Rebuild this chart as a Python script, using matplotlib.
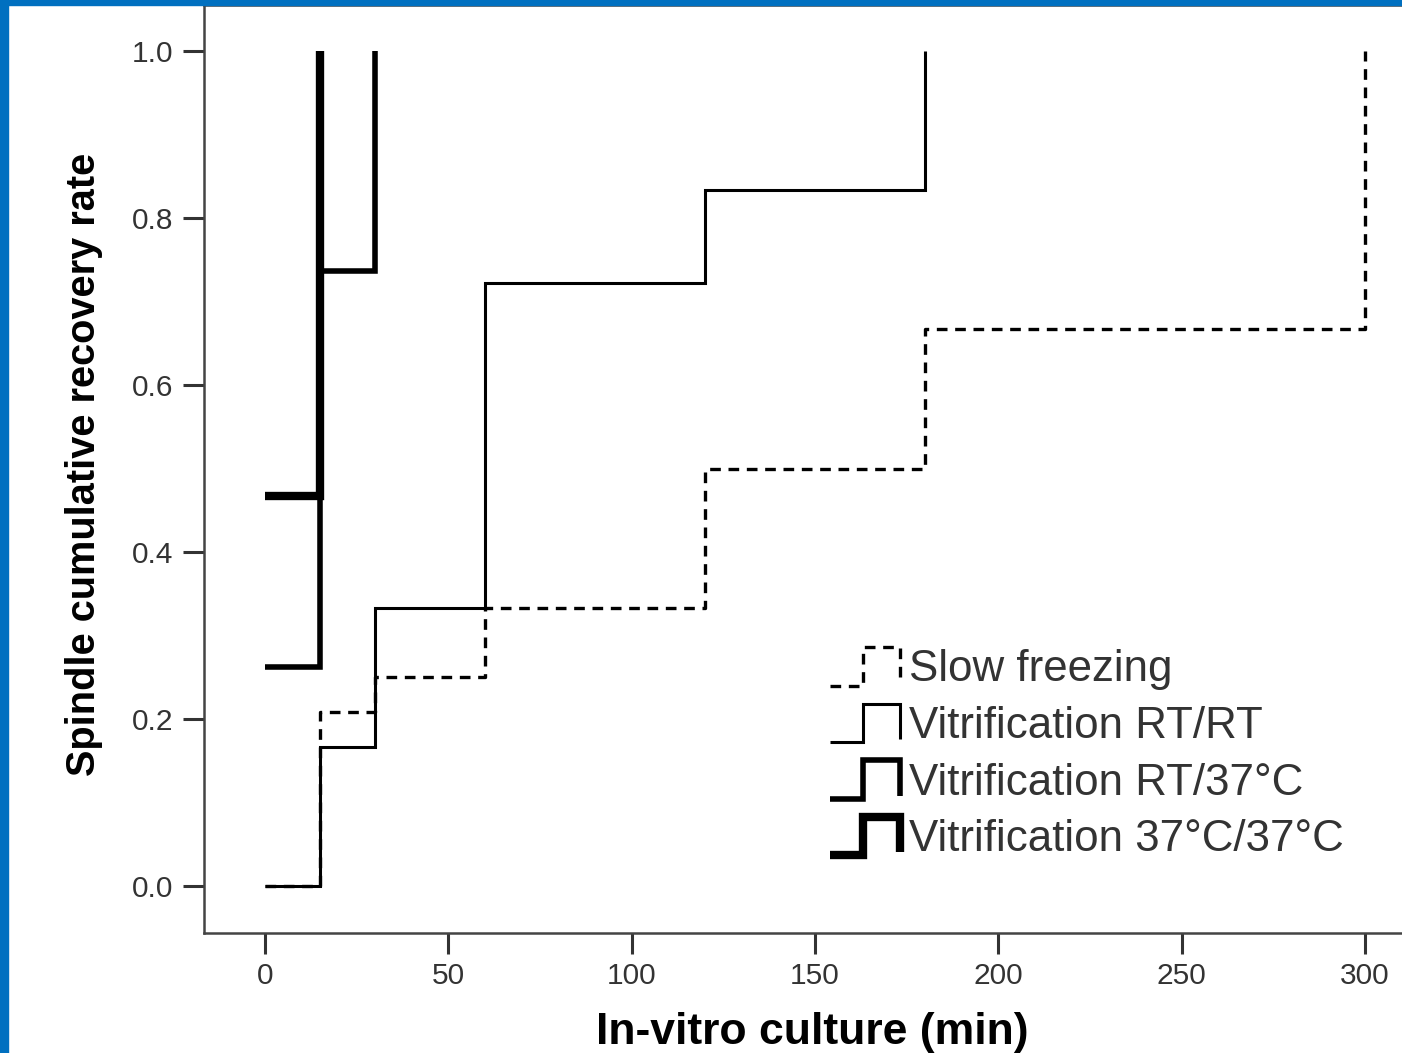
import matplotlib
matplotlib.use('Agg')
import matplotlib.pyplot as plt
from matplotlib.legend_handler import HandlerBase
from matplotlib.lines import Line2D
from matplotlib.patches import Rectangle

# culture time (min) at which each group steps, and cumulative recovery rate
slow_t = [0, 15, 30, 60, 120, 180, 300]
slow_v = [0.0, 0.208, 0.25, 0.333, 0.5, 0.667, 1.0]
rtrt_t = [0, 15, 30, 60, 120, 180]
rtrt_v = [0.0, 0.167, 0.333, 0.722, 0.833, 1.0]
rt37_t = [0, 15, 30]
rt37_v = [0.263, 0.737, 1.0]
t3737_t = [0, 15]
t3737_v = [0.467, 1.0]

labels = ['Slow freezing', 'Vitrification RT/RT',
          'Vitrification RT/37°C', 'Vitrification 37°C/37°C']
xticks = [0, 50, 100, 150, 200, 250, 300]
yticks = [0.0, 0.2, 0.4, 0.6, 0.8, 1.0]

plt.rcParams['font.family'] = ['Liberation Sans', 'DejaVu Sans']


class StepHandler(HandlerBase):
    # legend key drawn as a little step: low, up, across, down
    def create_artists(self, legend, orig_handle, xdescent, ydescent,
                       width, height, fontsize, trans):
        x0 = -xdescent
        y0 = -ydescent
        xm = x0 + 0.47 * width
        xs = [x0, xm, xm, x0 + width, x0 + width]
        ys = [y0, y0, y0 + height, y0 + height, y0 + 0.08 * height]
        line = Line2D(xs, ys)
        line.update_from(orig_handle)
        line.set_transform(trans)
        return [line]


fig = plt.figure(figsize=(14.02, 10.53), dpi=100)
ax = fig.add_axes([204 / 1402, 120 / 1053, 1216 / 1402, 928 / 1053])

common = dict(color='black', where='post', solid_capstyle='butt',
              solid_joinstyle='miter', dash_capstyle='butt')
h1, = ax.step(slow_t, slow_v, lw=2.4, linestyle=(0, (3.2, 2.3)), **common)
h2, = ax.step(rtrt_t, rtrt_v, lw=2.2, **common)
h3, = ax.step(rt37_t, rt37_v, lw=4.0, **common)
h4, = ax.step(t3737_t, t3737_v, lw=6.0, **common)

ax.set_xlim(-16.6, 315)
ax.set_ylim(-0.056, 1.055)
ax.set_xticks(xticks)
ax.set_yticks(yticks)
ax.set_yticklabels([f'{v:.1f}' for v in yticks])

for s in ax.spines.values():
    s.set_linewidth(1.8)
    s.set_color('#444444')
ax.tick_params(direction='out', length=15, width=2.2, color='#333333',
               labelsize=21.5, labelcolor='#333333')
ax.tick_params(axis='y', pad=7)
ax.tick_params(axis='x', pad=6)

ax.set_xlabel('In-vitro culture (min)', fontsize=32, fontweight='bold')
ax.set_ylabel('Spindle cumulative recovery rate', fontsize=28.6, fontweight='bold')
ax.xaxis.set_label_coords(0.5, -0.085)
ax.yaxis.set_label_coords(-0.083, 0.505)

ax.legend([h1, h2, h3, h4], labels, handler_map={Line2D: StepHandler()},
          loc='upper left', bbox_to_anchor=(830 / 1402, 1 - 647 / 1053),
          bbox_transform=fig.transFigure, frameon=False, fontsize=31.6,
          labelcolor='#333333', handlelength=1.6, handleheight=0.98,
          handletextpad=0.2, labelspacing=0.3, borderaxespad=0,
          borderpad=0)

# blue frame strips on the left and top of the original image
fig.patches.append(Rectangle((0, 0), 8 / 1402, 1, transform=fig.transFigure,
                             color='#0070C0', zorder=10))
fig.patches.append(Rectangle((0, 1 - 5 / 1053), 1, 5 / 1053,
                             transform=fig.transFigure, color='#0070C0',
                             zorder=10))

fig.savefig('out.png', dpi=100)
plt.close(fig)
